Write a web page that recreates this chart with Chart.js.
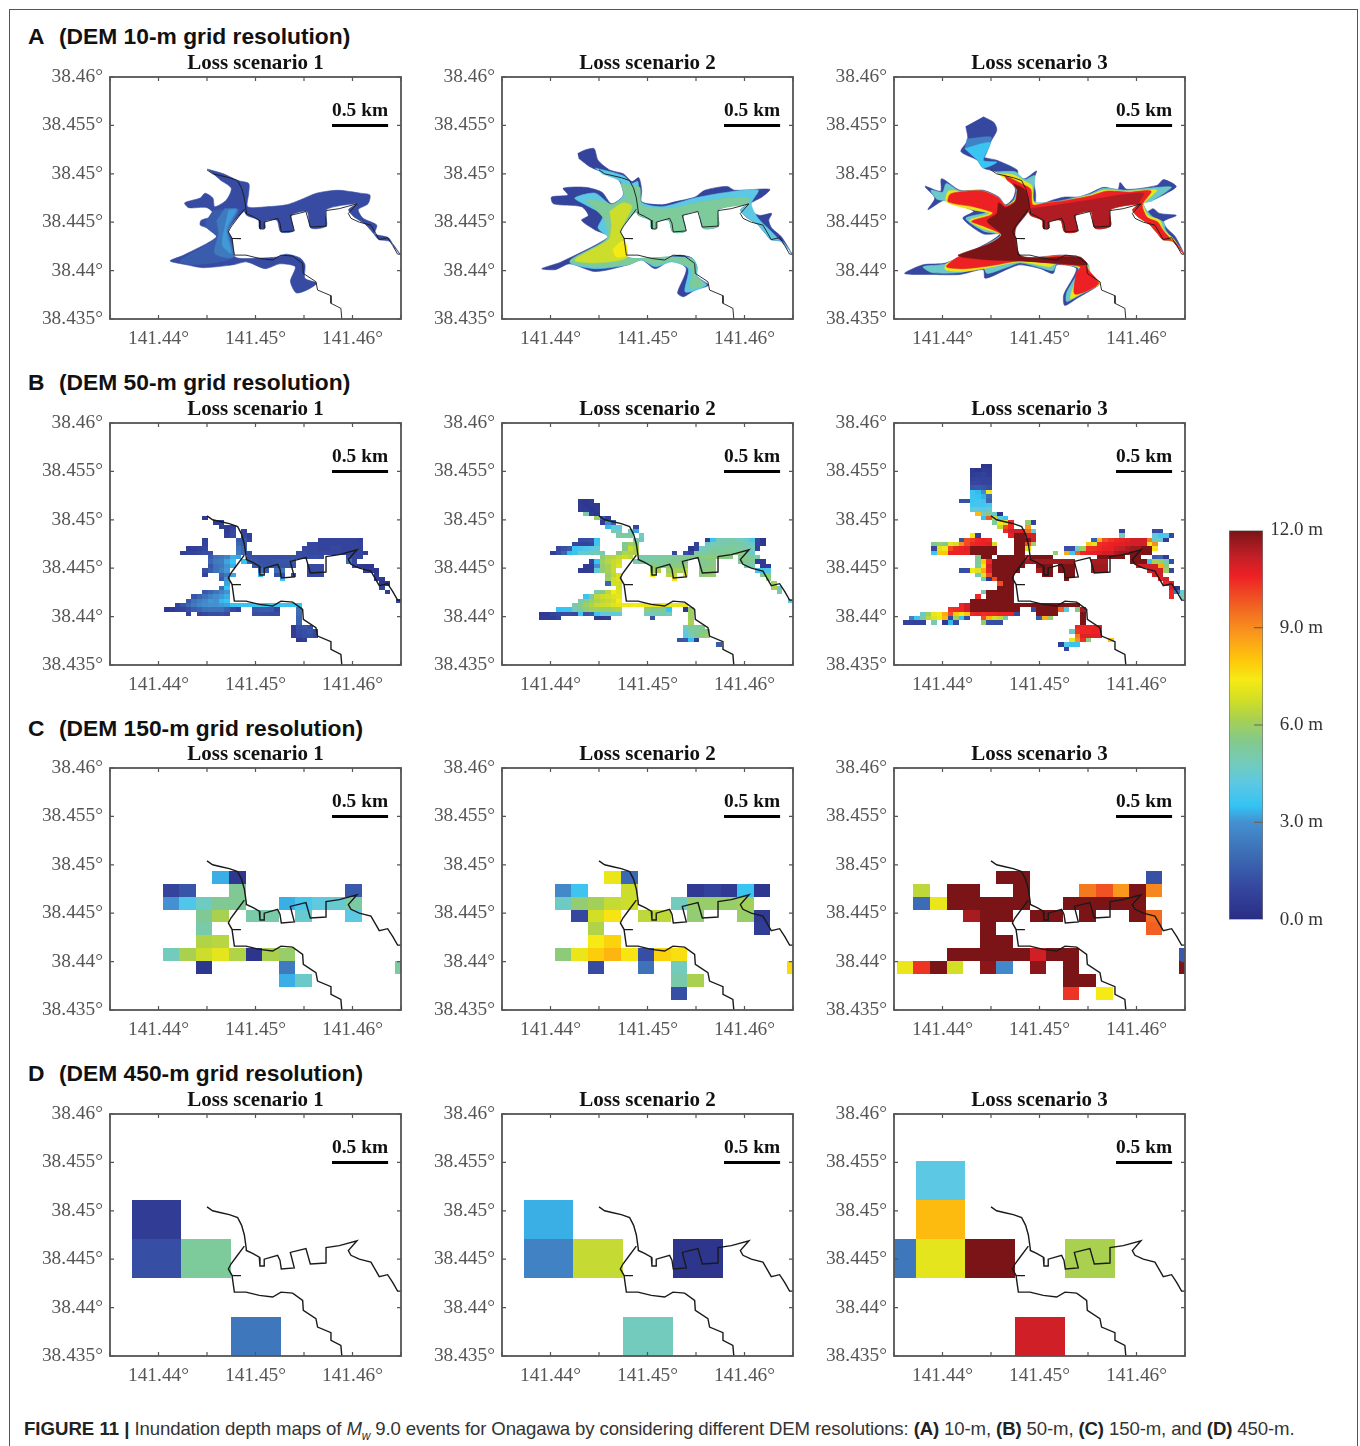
<!DOCTYPE html>
<html>
<head>
<meta charset="utf-8">
<title>Inundation depth maps</title>
<script src="https://cdn.jsdelivr.net/npm/chart.js@4"></script>
<style>
  html, body { margin: 0; padding: 0; background: #fff; }
  body { position: relative; width: 1360px; height: 1446px; overflow: hidden; }
  canvas { position: absolute; }
  #frame { position: absolute; left: 9px; top: 9px; width: 1347px; height: 1460px; border: 1px solid #555; }
  .head { position: absolute; font: bold 22.8px "Liberation Sans"; color: #111; white-space: nowrap; line-height: 28px; }
  #caption { position: absolute; left: 24px; top: 1417px; font: 18.6px "Liberation Sans"; color: #333; white-space: nowrap; line-height: 24px; letter-spacing: -.125px; }
  #caption b { color: #222; }
  #caption b.fig { letter-spacing: 0; }
</style>
</head>
<body>
<div id="frame"></div>
<div id="caption"><b class="fig">FIGURE 11 |</b> Inundation depth maps of <i>M<sub style="font-size:12px;line-height:0">w</sub></i> 9.0 events for Onagawa by considering different DEM resolutions: <b>(A)</b> 10-m, <b>(B)</b> 50-m, <b>(C)</b> 150-m, and <b>(D)</b> 450-m.</div>
<script>
const scenarioTitles = ['Loss scenario 1', 'Loss scenario 2', 'Loss scenario 3'];
const rowLetters = ['A', 'B', 'C', 'D'];
const rowTitles = ['(DEM 10-m grid resolution)', '(DEM 50-m grid resolution)', '(DEM 150-m grid resolution)', '(DEM 450-m grid resolution)'];
const labelledLons = [141.44, 141.45, 141.46];
const scaleBarLons = [141.45789, 141.46367];
const scaleBarLat = 38.455;
const colorbarTicks = [0, 3, 6, 9, 12];

// depth colour table
const depthStops = [0, 1, 2, 3, 3.5, 4.2, 4.8, 5.5, 6.2, 6.8, 7.4, 8, 8.7, 9.3, 10, 10.6, 11.2, 12];
const depthColors = ['#2a2d84', '#35479f', '#3c6cb4', '#4490d0', '#33c3f4', '#5cc8e3', '#72cbbc', '#82c98d', '#a9d14f', '#d3df24', '#f6ea14', '#fec70a', '#fb9e1a', '#f47a20', '#ef4b24', '#ed2024', '#c21f27', '#7a1416'];

// coast, lon / lat in degrees
const coastNorthLon = [141.4450, 141.44558, 141.44644, 141.4473, 141.44816, 141.44857, 141.44885, 141.44905, 141.44905, 141.4497, 141.45039, 141.45046, 141.4509, 141.4509, 141.45228, 141.45252, 141.45266, 141.4540, 141.45359, 141.4552, 141.45565, 141.45733, 141.45727, 141.45864, 141.46046, 141.45957, 141.45984, 141.4607, 141.4619, 141.46242, 141.46276, 141.46362, 141.46414, 141.46465, 141.465];
const coastNorthLat = [38.4504, 38.4500, 38.4498, 38.4496, 38.4493, 38.4485, 38.4475, 38.4461, 38.4459, 38.4456, 38.4452, 38.4443, 38.4443, 38.4450, 38.4454, 38.4449, 38.4440, 38.4441, 38.4457, 38.4461, 38.4445, 38.4446, 38.4462, 38.4464, 38.4469, 38.4459, 38.4454, 38.4450, 38.4447, 38.4438, 38.4432, 38.4434, 38.4426, 38.4417, 38.4417];
const coastSouthLon = [141.44885, 141.44799, 141.44747, 141.4472, 141.44758, 141.4485, 141.44758, 141.44782, 141.44902, 141.45039, 141.45177, 141.45263, 141.45383, 141.45486, 141.45493, 141.45623, 141.4564, 141.45778, 141.45778, 141.4588, 141.4589];
const coastSouthLat = [38.44635, 38.4452, 38.4445, 38.4440, 38.44332, 38.4433, 38.44332, 38.4416, 38.4416, 38.44126, 38.44109, 38.4416, 38.4415, 38.44074, 38.43971, 38.43885, 38.43799, 38.43741, 38.43662, 38.4361, 38.435];

// 10-m maps: depth bands as outlines, offsets from the lower left corner in 1e-4 degrees
const tailCoast = [[299,67],[289,80],[277,82],[272,88],[263,98],[251,106],[246,113]];
const dockCoast = [[254,119],[223,113],[223,96],[207,94],[203,111],[187,107],[189,91],[176,90],[172,102],[160,101],[160,94],[154,94],[153,102],[141,107],[138,111]];
const midCoast = [[122,92],[126,83],[129,64]];

const a1North = [[100,155],[117,150],[132,143],[143,140],[143,130],[142,116],[162,116],[182,118],[196,123],[213,130],[235,133],[258,130],[268,128],[266,119],[256,113],[261,104],[275,97],[273,88],[287,84],[294,73]];
const a1South = [[155,63],[172,64],[182,67],[196,63],[201,56],[201,42],[213,37],[203,30],[192,27],[186,39],[191,54],[175,57],[160,52],[141,59],[127,56],[96,53],[79,56],[62,60],[76,66],[110,85],[100,94],[93,97],[94,102],[108,107],[100,115],[81,115],[77,120],[93,125],[98,130],[106,125],[108,116],[120,123],[125,135],[113,144]];
const a1Wide = [[106,112],[132,113],[122,92],[127,64],[88,56],[72,60],[110,84],[100,94],[98,100]];
const a1Mid = [[118,114],[132,113],[122,92],[127,64],[108,68],[112,88],[110,102]];
const a1Core = [[122,112],[130,113],[120,92],[125,68],[116,76],[117,90]];

const a2North = [[78,171],[87,175],[95,176],[99,164],[111,154],[125,150],[134,142],[141,146],[144,133],[144,121],[165,118],[178,121],[199,126],[209,133],[232,137],[240,133],[276,134],[268,126],[256,119],[257,111],[266,107],[278,109],[275,102],[278,94],[288,85]];
const a2South = [[154,63],[172,64],[183,66],[196,63],[201,54],[201,44],[213,35],[199,30],[187,23],[181,27],[190,52],[175,61],[158,52],[144,61],[130,56],[96,49],[70,57],[55,51],[41,52],[61,59],[110,85],[96,92],[82,102],[89,107],[82,116],[53,119],[51,126],[68,128],[63,135],[86,136],[103,131],[113,119],[125,128],[120,144],[103,152],[91,157],[79,166]];
const a2CyanNorth = [[96,156],[125,148],[134,140],[140,142],[143,121],[165,116],[199,125],[233,131],[264,133],[257,119],[264,104],[276,92],[297,70]];
const a2CyanSouth = [[154,63],[172,64],[196,63],[201,54],[201,44],[211,35],[189,28],[192,52],[175,59],[158,54],[144,61],[130,56],[96,52],[70,59],[110,83],[99,94],[104,107],[86,118],[75,125],[96,130],[113,118],[125,128],[122,142],[103,150]];
const a2GreenNorth = [[122,140],[134,138],[142,136],[143,121],[147,116],[171,114],[206,121],[233,125],[254,125]];
const a2GreenSouth = [[154,63],[172,64],[196,62],[200,54],[200,44],[209,36],[194,32],[196,51],[175,60],[158,56],[144,61],[130,56],[96,54],[70,60],[108,83],[106,102],[96,114],[87,123],[106,121],[113,118],[127,126]];
const a2Yellow = [[111,111],[125,120],[134,116],[123,92],[129,64],[96,58],[75,61],[110,82],[113,95]];
const a2Bright = [[122,80],[127,80],[129,66],[118,64],[114,72]];

const a3North = [[92,209],[103,203],[106,195],[99,182],[92,168],[106,164],[127,154],[128,147],[135,145],[147,153],[144,144],[146,130],[147,118],[164,123],[176,126],[190,126],[202,130],[216,136],[231,134],[233,141],[240,134],[271,138],[278,144],[291,137],[281,130],[267,123],[257,120],[261,111],[267,114],[274,109],[291,107],[278,101],[281,94],[290,85]];
const a3South = [[175,66],[195,61],[200,56],[202,42],[213,37],[188,21],[176,14],[175,25],[188,52],[168,56],[164,47],[151,52],[130,56],[118,52],[94,42],[92,51],[68,46],[39,46],[11,47],[30,56],[54,58],[99,80],[109,88],[92,88],[71,104],[82,111],[77,114],[53,123],[35,113],[42,125],[32,137],[48,132],[49,145],[68,133],[92,133],[108,126],[115,118],[123,125],[125,135],[116,145],[106,152],[92,156],[86,164],[69,173],[76,185],[74,199]];
const a3Lobe = [[73,176],[99,182],[92,164],[106,162],[92,156],[86,164]];
const a3LobeMid = [[75,186],[100,188],[99,181],[92,165],[86,165],[73,176]];
const a3CyanNorth = [[106,152],[125,152],[135,144],[145,148],[144,122],[164,121],[202,129],[216,135],[240,133],[272,136],[286,136],[266,122],[257,119],[266,106],[278,100],[280,92],[297,69]];
const a3CyanSouth = [[175,65],[195,60],[201,55],[202,42],[213,37],[188,23],[178,18],[178,27],[190,52],[168,57],[164,50],[151,53],[130,58],[118,54],[96,47],[92,53],[68,48],[39,48],[30,54],[54,57],[99,79],[110,87],[92,91],[74,104],[95,110],[78,114],[53,122],[44,124],[38,133],[50,131],[54,140],[68,132],[92,132],[108,125],[115,117],[124,124],[126,135],[116,144]];
const a3YellowNorth = [[106,150],[123,149],[135,142],[142,138],[144,121],[149,119],[175,122],[202,128],[216,133],[237,132],[261,133],[271,133],[261,123],[257,118],[262,107],[274,102],[278,92],[288,83],[297,70]];
const a3YellowSouth = [[175,65],[195,60],[200,54],[202,42],[213,37],[194,27],[182,21],[187,39],[192,52],[168,58],[161,54],[130,59],[92,52],[70,49],[53,51],[54,57],[99,78],[111,87],[90,94],[78,102],[99,109],[80,113],[54,121],[56,132],[68,132],[92,132],[108,125],[115,117],[125,123],[127,135],[116,144]];
const a3RedNorth = [[113,149],[133,139],[141,134],[143,118],[157,120],[175,122],[202,127],[219,132],[243,131],[265,132],[256,118],[261,105],[272,100],[277,92],[285,83]];
const a3RedSouth = [[175,65],[195,59],[201,50],[211,37],[199,29],[186,26],[188,47],[192,54],[168,57],[130,60],[99,55],[72,52],[54,54],[66,64],[99,78],[111,87],[92,96],[80,101],[99,107],[102,110],[82,116],[56,121],[58,129],[75,132],[92,132],[108,125],[115,117],[125,122],[127,134],[116,144]];
const a3Dark = [[140,114],[157,116],[202,123],[257,130],[249,115],[254,119],[223,113],[223,96],[207,94],[203,111],[187,107],[189,91],[176,90],[172,102],[160,101],[160,94],[154,94],[153,102],[141,107]];
const a3Core = [[123,140],[135,133],[139,113],[125,92],[130,66],[157,63],[171,64],[192,64],[199,56],[161,58],[132,60],[99,61],[70,64],[66,66],[99,78],[111,87],[96,101],[106,109],[108,120],[115,115],[125,121],[127,133]];

const a1Bands = [[...a1North, ...tailCoast, ...dockCoast, ...midCoast, ...a1South], a1Wide, a1Mid, a1Core];
const a1Depths = [1.1, 1.6, 2.4, 3.1];
const a2Bands = [
  [...a2North, ...tailCoast, ...dockCoast, ...midCoast, ...a2South],
  [...a2CyanNorth, ...tailCoast, ...dockCoast, ...midCoast, ...a2CyanSouth],
  [...a2GreenNorth, ...dockCoast, ...midCoast, ...a2GreenSouth],
  a2Yellow, a2Bright
];
const a2Depths = [0.9, 4.2, 5.3, 6.7, 7.4];
const a3Bands = [
  [...a3North, ...tailCoast, ...dockCoast, ...midCoast, ...a3South],
  a3LobeMid, a3Lobe,
  [...a3CyanNorth, ...tailCoast, ...dockCoast, ...midCoast, ...a3CyanSouth],
  [...a3YellowNorth, ...tailCoast, ...dockCoast, ...midCoast, ...a3YellowSouth],
  [...a3RedNorth, ...tailCoast, ...dockCoast, ...midCoast, ...a3RedSouth],
  a3Dark, a3Core
];
const a3Depths = [1.0, 2.6, 3.6, 4.6, 7.2, 10.6, 11.4, 12];

// 50-m cells: [row, first column, depths...]
const b1Cells = [
  [0,7,.5],[1,9,.6,.7],[2,10,.7,.6,.8],[3,11,.5,1],[3,14,.9],[4,11,.7,1.1],[4,14,1,.7],
  [5,7,.8],[5,13,1.6,1.4,.8],[5,28,.9,.8,.8,.9,.9,.8,.8,.7],
  [6,7,.9],[6,13,1.9,1.6],[6,26,1,1,.9,.9,.9,.9,.9,.9,.8,.8],
  [7,4,.6,.7,.8,1],[7,13,2.2,1.8],[7,25,1,1,1,.9,.9,1,1,.9,.9,.9,.8],
  [8,3,.7,.9,.9,1,1.2,1.3],[8,13,2.4,1.9,1.2],[8,24,1.1,1.1,1,1,1,1,1,1,1,.9,.9,.9,.7],
  [9,8,1.6,2.2,2.3,2.6,3.3,3.2],[9,15,1.3,1.3,1.2,1.2,1.2,1.2,1.2,1.3,1.3],[9,24,1.2,1.1,1.1,1.2,1.1],[9,33,1.2,1,.9],
  [10,8,1.9,2.4,2.5,3.2,3.5],[10,14,3.5,1.6,1.4,1.3,1.3,1.3,1.4,1.4,1.4,1.4],[10,33,2,1],
  [11,8,1.4,2.2,2.4,3,3.3],[11,16,1.3,1.4,1.3,1.3,1.3,1.3,1.3,1.3],[11,26,1.1,1.1,1.1],[11,34,1.1,.5,.4,.4],
  [12,7,1.2,1.6,2.2,2.6,3.1],[12,17,2.1,1.5],[12,20,2,2.3],[12,26,1,1.1,1.1],[12,36,.6,.5,.4],
  [13,7,.8],[13,10,1.8,2.3,3.2],[13,17,3.4],[13,20,1.2,1.3],[13,23,1.2],[13,26,1,1,1],[13,38,.6],
  [14,10,1.5,3],[14,21,3.6],[14,38,.7,.5],[15,11,3.2],[15,39,.4,.4],[16,10,2,3.5],[16,39,.8],
  [17,7,1.5,1.8,2.2,2.6,3],[17,40,.7],[18,5,1.4,1.8,2.2,2.6,2.9,3.1,3.3],
  [19,4,1.5,2.2,2.5,2.8,3.1,3,3.4,3.6],[19,42,.8],
  [20,2,.9,1.4,1.9,2.4,2.7,2.9,3,3,3.1,3.2,3.5,3.6,3.6,3.6,3.6,3.6,3.6,3.6,3.6,3.6,3.6,3.6,3.5],
  [21,0,.4,.5,.7,.9,1.2,1.6,1.8,2.1,2.2,2.2,2.2,1.7,1,.7],[21,16,1.4,1.5,1.6,1.5,.9],[21,24,2.1],
  [22,4,.8],[22,6,.9,1,1.2,1.2,1.3,1.1],[22,16,1.2,1.3,1.2,1.1,1.1],[22,24,2],
  [23,24,1.8],[24,24,1.7],[25,23,.6,1.2,1.4,1.2],[26,23,.6,1.1,1.2,1.4,1],[27,23,.6,1,1.2,1.2,.9],[28,24,.5,.7]
];
const b2Cells = [
  [-4,4,.5,.4,.6],[-3,4,.5,.4,.5,.5],[-2,4,.5,.5,.4,.5],[-1,5,5,.5,.4],[0,7,6,1.6,.6],[1,8,.6,2.8,1.5],
  [2,9,3.4,4.4,4.2],[2,14,1],[3,10,5,4.8],[3,13,4.8,3.2],[4,11,5.2,5.2,5.2],[4,15,4.8],
  [5,4,1.1,1.2,1.3,3.6],[5,14,5,4.6],[5,27,.7,3.6,5,5,5,5,4.8,4.5,3.9,1,.4],
  [6,3,1,.8,.8,1,3.7],[6,12,5.5,6,5.6],[6,25,.8],[6,27,4.6,4.8,5,5,5.2,5.2,5,5,4.6,.9,.5],
  [7,0,1,1.3,1.5,3.6,3.8,4,4.2,4.5],[7,12,5.5,6.6,6.2],[7,24,.4,.9,4.8,5,5.2,5.2,5.2,5.3,5.3,5.2,5,4.8,.8],
  [8,-1,.7,1.2,1.8,3.4,3.6,4.5,4.6,4.7,4.9,5],[8,11,5.6,6.3,6.3,6.2],[8,21,1],[8,23,1.2,.9,5.2,5.3,5.3,5.4,5.4,5.5,5.5,5.5,5.8,5.2,4.6],
  [9,8,5.8,6.3,6.4,6.6,6.7,6.5],[9,15,5,5.1,5.1,5.2,5.3,5.3,5.4,5.4,5.4,5.5,5.6,5.6,5.7,5.7,5.7,5.6,5.6],[9,33,5.3,5.5,5.3,5],
  [10,6,.9,3.5,6,6.4,6.6,6.8],[10,14,5.1,5.2,5.2,5.3,5.3,5.3,5.4,5.5,5.5,5.4],[10,26,5.5,5.5,5.6],[10,33,5.4,5.5,5.3,.5,.5],
  [11,5,.6,.6,3,5.8,6.2,6.6,7],[11,17,5.7,5.5,5.5,5.5,5.6,5.6,5.8],[11,26,5.4,5.5,5.6],[11,34,5,5],[11,37,.5,.6],
  [12,4,.6,.5,.6,4.3,5.8,6.2,6.6],[12,17,6,6.2],[12,20,6,6.1,6.1,6.4],[12,26,5.6,5.7,5.7],[12,36,3.7,3.8,4],
  [13,9,5.9,6.5,6.9],[13,17,7.3],[13,20,6.4,6.5],[13,23,7],[13,26,5.7,5.8,5.8],[13,37,5.5,5.7],
  [14,9,6.1,6.8,7],[14,21,7.6],[14,38,5.8],[15,9,1.8,6.8,6.8],[15,39,6],[16,11,6.8],[16,39,6.2,4.6],
  [17,7,5,5.6,6.5,7.4,7],[17,40,5.2],[18,5,3.6,5.2,6.5,6.7,6.8,7,7.1],
  [19,4,5,5.7,6,6.3,6.5,6.6,6.8,7.4],[19,42,4.3],
  [20,3,5,5.6,6,6.3,6.6,6.7,6.8,7,7.1,7.3,7.3,7.4,7.3,7.2,7.2,7.2,7.2,7.2,7.2,7.2,7.2],
  [21,0,3.5,3.6,3.6,4.8,5.3,5.8,6,6,6,6,6.2,6.3],[21,16,5.8,5.6,5.6,5.6,3.5],[21,23,.4,6],
  [22,-3,.5,.5,.8,1,1.1,1.1,1,3.7,1.3,1.5,3.7,4.3,4.4,4.3,4.4],[22,16,4.8,4.8,4.9,4.9,4.8],[22,24,6],
  [23,-3,.6,.6,.6,.8],[23,7,.6,.5,.6],[23,17,1.3],[23,24,6],[24,24,6.2],
  [25,23,4.8,5.2,5.3,5.5],[26,23,4.3,5,5.4,5.5,5.6],[27,23,4.2,4.8,5.4,5.7,5.9],[28,22,1.4,1.5,3.5,.7],[29,29,1.6]
];
const b3Cells = [
  [-12,6,.3,.3],[-11,4,.5,.4,.6,.5],[-10,4,.6,.7,.8,.6],[-9,4,.8,.9,.8,.8],[-8,4,1,1,.9,.9],[-7,4,1.4,1.5,1.4,1.2],
  [-6,4,3.6,3.4,2.8,7.4],[-5,4,3.7,3.5,3.3,2],[-4,2,1.3,1.3,3.7,3.8,3.6,1.8],[-3,4,3.8,3.8,3.8,3.9],[-2,4,4.4,4.3,4.2,4.5],
  [-1,5,8.2,4.8,5.4,4.6,.3],[0,6,3.5,9.8,6.5,4.2,3.6],[1,8,5.3,7.3,7,10.5],[1,14,5.8,.8],[2,9,6.5,10,10.5],[2,14,8.8],
  [3,10,10.5,11,11,11,9.5,4.5],[3,31,.8],[3,37,1.1,1.1],
  [4,4,7.3,.7],[4,11,10.6,12,12,11,11],[4,31,4.8],[4,37,4.4,3.8,4,1],
  [5,2,1.3,10,10.2,10.5,10.6,10.5],[5,12,12,12,12,11],[5,26,1.6,8.3,10,10.3,10.5,10.6,10.7,11,11,11,9.3,4.6,4.5,.6],
  [6,-3,5.5,5.9,5.4,7.1,6.8,9,10,10.5,10.6,10.6,10.8,6.8],[6,12,12,12,10,6],[6,25,8,7,10.4,10.5,10.6,10.7,10.8,10.9,11,11,11,7.5,9],
  [7,-3,1,7,7.3,10,10.5,10.6,10.8,12,12,12,12,12],[7,12,12,12,7],[7,21,1.2,1.2,4.6,6,10.3,10.4,10.5,10.6,10.7,11,11.2,11.4,11.6,11.6,12,12,7.5],
  [8,-3,3.7,8,8,10.6,10.6,10.6,10.6,12,12,12,12,12],[8,12,12,12],[8,19,5.8],[8,21,8.5,3.8,9.7,10.5,10.6,10.7,10.8,11,11,11.4,11.6,11.6,12,12,12,12],
  [9,5,5.5,12,12],[9,9,12,12,12,12,12,11,12,12,12,12],[9,27,12,12,12,12,12],[9,33,12,12],[9,37,1.6,1.8],[9,39,.6],
  [10,5,5.4,8,10.5,12,12,12,12,12,12],[10,14,11.5,11.6,11.6,11.6,11.6,11.6,11.6,11.6,11.6],[10,26,11.5,11.5,11.5],[10,33,12,12,12,3.6,6.2,6,4.8,1.2],
  [11,5,5.3,7.5,11,12,12,12,12,12,12],[11,16,12,12,12],[11,20,12,12,12],[11,26,11.6,11.6,11.6],[11,34,11,11,11,11,8.5,5.7],
  [12,2,1.2,1.2,7.3,7,8.5,10.8,12,12,12,12,12],[12,16,11.5,12,12],[12,20,12,12,12],[12,26,11.6,11.6,11.6],[12,36,11,11,11,6,1],
  [13,5,5,7,10,12,12,12,12],[13,17,12,12],[13,21,12,12],[13,37,11,11],
  [14,6,4.8,.4,10,12,12,12],[14,21,12],[14,38,10.6,11],[15,9,10,12,12],[15,39,10.5,11],[16,9,12,12,12],[16,40,11,.3],
  [17,6,5.1,12,12,12,12,12],[17,40,10.5,2.2,4.5],[18,5,10.5],[18,7,12,12,12,12,12],[18,40,10.5],[18,42,4.8],
  [19,4,12,12,12,12,12,12,12,12],[19,43,9.8],
  [20,2,10.5,11,12,12,12,12,12,12,12,12,12,12,12,12,12,12,12,12,12,12,12,12],
  [21,0,10.3,10.4,10.5,11,12,12,12,12,12,12,12,12,12],[21,15,1.2,12,12,12,12,9.7,4.2],[21,23,5.6,11.5],
  [22,-5,4.6,6,7.2,7.4,8.5,10,8,7.5,8,10.5,10.6,10.4,10.5,10.5,10.6,10.6,10.6,1],[22,16,12,12,12,12],[22,24,12],
  [23,-7,2.6,3.7,5,6.5,7,7.3,8.3,1,6,3.6,1.2],[23,6,10,8.3,6.8,6.5,5],[23,16,1.6,8.4,5.8],[23,24,12],
  [24,-8,.8,.8,.8,.8],[24,-3,5],[24,-1,.5,3.4,1.1],[24,6,5.8,1.2,1.2,1.2],[24,24,12],
  [25,23,10.5,10.5,10.6,10.6,10.6],[26,22,4.6,10.3,10.5,10.5,10.6,10.6],[27,23,9.3,10.8,10.8,10.8,10.8],
  [28,22,7.2,8.9,10.4,5.7],[28,29,8],[29,20,.6,4,3.6,3.6],[30,21,1]
];

// 150-m cells
const c1Cells = [
  [0,6,3.3,.4],[1,3,.9,1.4],[1,7,5.4],[1,14,1.5],
  [2,3,3,4,4.7,5.4,5.4],[2,10,3.3,3.9,4.3,4.5,5.2],
  [3,5,5.4,6.2],[3,8,5.1,5.1],[3,11,4.5],[3,14,4.2],
  [4,5,5.1],[5,5,6.3,6.4],[6,3,4.8,6.2,6.7,7.1,6.3,.3,6.2,5.9],
  [7,5,.4],[7,10,2.4],[7,17,5.2],[8,10,3.3,4.6]
];
const c2Cells = [
  [0,6,7.2,1.9],[1,3,2.8,3.7],[1,7,6.7],[1,11,.5,.8,.5,3.6,.4],
  [2,3,4.7,5.8,6.1,6.6,6.7],[2,10,4.8,5.9,5.9,5.9,6.1],
  [3,4,1,6.8,7.5],[3,8,6.5,6.5],[3,11,5.8],[3,14,5.9,.5],
  [4,5,6.3],[4,15,.6],[5,5,7.4,7.8],[6,3,5.7,7.2,7.9,8.3,7.5,1.2,7.8,7.6],
  [7,5,1.1],[7,8,2.2],[7,10,4.8],[7,17,7.7],[8,10,5.1,6.2],[9,10,1.2]
];
const c3Cells = [
  [0,6,12,12],[0,15,1.3],[1,1,6.5],[1,3,12,12],[1,7,12],[1,11,9.3,9.9,8.8,12,9.1],
  [2,1,2,7.2,12,12,12,12,12],[2,10,12,12,12,12,12],
  [3,4,11.5,12,12],[3,8,12,12],[3,11,12],[3,14,12,9.5],
  [4,5,12],[4,15,9.7],[5,5,12,12],[6,3,12,12,12,12,12,11,12,12],[6,17,1.5],
  [7,0,7.2,10.3,12,6.8],[7,5,11.8,2.8],[7,8,11.8],[7,10,12],[7,17,12],[8,10,12,12],[9,10,10.3],[9,12,7.4]
];

// 450-m cells
const d1Cells = [[1,0,.6],[2,0,1.2,5.3],[4,2,2.3]];
const d2Cells = [[1,0,3.3],[2,0,2.6,6.6],[2,3,.3],[4,2,4.8]];
const d3Cells = [[0,0,4.2],[1,0,8.2],[2,-1,2.3,7.1,12],[2,3,6.2],[4,2,11]];

const grid50 = { lon0: 141.44053, lat0: 38.4504, dLon: .00057, dLat: .00045 };
const grid150 = { lon0: 141.4353, lat0: 38.4494, dLon: .00171, dLat: .00134 };
const grid450 = { lon0: 141.43723, lat0: 38.45512, dLon: .00513, dLat: .00402 };

const panelLefts = [110, 502, 894];
const panelTops = [77, 423, 768, 1114];
const headingTops = [22, 368, 714, 1059];

function depthColor(d) {
  let i = 0;
  while (i < depthStops.length - 2 && d > depthStops[i + 1]) i++;
  const t = Math.min(1, (d - depthStops[i]) / (depthStops[i + 1] - depthStops[i]));
  const a = depthColors[i], b = depthColors[i + 1];
  const ch = (s, p) => parseInt(s.substr(p, 2), 16);
  const mix = p => Math.round(ch(a, p) + (ch(b, p) - ch(a, p)) * t);
  return 'rgb(' + mix(1) + ',' + mix(3) + ',' + mix(5) + ')';
}

function offsetPoints(pairs) {
  return pairs.map(p => ({ x: 141.435 + p[0] * 1e-4, y: 38.435 + p[1] * 1e-4 }));
}

function zipPoints(lons, lats) {
  return lons.map((lon, i) => ({ x: lon, y: lats[i] }));
}

function cellPoints(cells, grid) {
  const out = [];
  cells.forEach(run => {
    for (let i = 2; i < run.length; i++) {
      const c = run[1] + i - 2;
      out.push({
        x: grid.lon0 + (c + .5) * grid.dLon,
        y: grid.lat0 - (run[0] + .5) * grid.dLat,
        depth: run[i]
      });
    }
  });
  return out;
}

// cells are rectangles, one per data point, placed with the chart's scales
const cellPlugin = {
  id: 'cells',
  beforeDatasetsDraw(chart) {
    const { ctx, chartArea, scales } = chart;
    ctx.save();
    ctx.beginPath();
    ctx.rect(chartArea.left, chartArea.top, chartArea.width, chartArea.height);
    ctx.clip();
    chart.data.datasets.forEach(ds => {
      if (!ds.grid) return;
      ds.data.forEach(p => {
        const x0 = Math.round(scales.x.getPixelForValue(p.x - ds.grid.dLon / 2));
        const x1 = Math.round(scales.x.getPixelForValue(p.x + ds.grid.dLon / 2));
        const y0 = Math.round(scales.y.getPixelForValue(p.y + ds.grid.dLat / 2));
        const y1 = Math.round(scales.y.getPixelForValue(p.y - ds.grid.dLat / 2));
        ctx.fillStyle = depthColor(p.depth);
        ctx.fillRect(x0, y0, x1 - x0, y1 - y0);
      });
    });
    ctx.restore();
  }
};

// box round the map with short inward ticks, and the scale bar text
const framePlugin = {
  id: 'mapFrame',
  afterDraw(chart) {
    const { ctx, chartArea: a, scales } = chart;
    ctx.save();
    ctx.strokeStyle = '#555';
    ctx.lineWidth = 1.8;
    ctx.strokeRect(a.left, a.top, a.width, a.height);
    ctx.lineWidth = 1.2;
    ctx.beginPath();
    scales.x.ticks.forEach(t => {
      const px = scales.x.getPixelForValue(t.value);
      ctx.moveTo(px, a.bottom); ctx.lineTo(px, a.bottom - 4);
      ctx.moveTo(px, a.top); ctx.lineTo(px, a.top + 4);
    });
    scales.y.ticks.forEach(t => {
      const py = scales.y.getPixelForValue(t.value);
      ctx.moveTo(a.left, py); ctx.lineTo(a.left + 4, py);
      ctx.moveTo(a.right, py); ctx.lineTo(a.right - 4, py);
    });
    ctx.stroke();
    ctx.fillStyle = '#111';
    ctx.font = 'bold 19.4px "Liberation Serif"';
    ctx.textAlign = 'center';
    ctx.textBaseline = 'middle';
    ctx.fillText('0.5 km',
      scales.x.getPixelForValue((scaleBarLons[0] + scaleBarLons[1]) / 2),
      scales.y.getPixelForValue(scaleBarLat) - 14.5);
    ctx.restore();
  }
};

function addCanvas(left, top, width, height) {
  const c = document.createElement('canvas');
  c.width = width; c.height = height;
  c.style.left = left + 'px'; c.style.top = top + 'px';
  c.style.width = width + 'px'; c.style.height = height + 'px';
  document.body.appendChild(c);
  return c;
}

function drawMap(left, top, title, bands, depths, cells, grid) {
  // the 10-m maps carry a thinner coast line
  const coastWidth = bands ? .9 : 1.4;
  const lineSets = [
    { data: zipPoints(coastNorthLon, coastNorthLat), showLine: true, borderColor: '#1a1a1a', borderWidth: coastWidth, pointRadius: 0, order: 0 },
    { data: zipPoints(coastSouthLon, coastSouthLat), showLine: true, borderColor: '#1a1a1a', borderWidth: coastWidth, pointRadius: 0, order: 0 },
    { data: zipPoints(scaleBarLons, [scaleBarLat, scaleBarLat]), showLine: true, borderColor: '#000', borderWidth: 3, pointRadius: 0, order: 0, clip: false }
  ];
  const bandSets = (bands || []).map((b, i) => ({
    data: offsetPoints(b), showLine: true, pointRadius: 0, fill: 'shape', tension: .25,
    borderColor: depthColor(depths[i]), borderWidth: .6,
    backgroundColor: depthColor(depths[i]), order: 100 - i
  }));
  const cellSets = cells ? [{ data: cellPoints(cells, grid), grid: grid, pointRadius: 0, order: 200 }] : [];
  new Chart(addCanvas(left - 80, top - 30, 383, 312), {
    type: 'scatter',
    data: { datasets: [...lineSets, ...bandSets, ...cellSets] },
    plugins: [cellPlugin, framePlugin],
    options: {
      responsive: false,
      animation: false,
      layout: { padding: { left: 0, right: 12, top: 0, bottom: 0 } },
      plugins: {
        legend: { display: false },
        tooltip: { enabled: false },
        title: {
          display: true, text: title, color: '#111', fullSize: false,
          font: { family: 'Liberation Serif', size: 21, weight: 'bold', lineHeight: 1.2 },
          padding: { top: 3.5, bottom: 1.3 }
        }
      },
      scales: {
        x: {
          type: 'linear', min: 141.435, max: 141.465,
          grid: { display: false, drawTicks: false },
          border: { display: false },
          afterFit: s => { s.height = 40; },
          ticks: {
            stepSize: .005, autoSkip: false, maxRotation: 0, padding: 8, color: '#555',
            font: { family: 'Liberation Serif', size: 19.4 },
            callback: v => labelledLons.some(l => Math.abs(l - v) < 1e-6) ? v.toFixed(2) + '°' : ''
          }
        },
        y: {
          type: 'linear', min: 38.435, max: 38.46,
          grid: { display: false, drawTicks: false },
          border: { display: false },
          afterFit: s => { s.width = 80; },
          ticks: {
            stepSize: .005, autoSkip: false, padding: 7, color: '#555',
            font: { family: 'Liberation Serif', size: 19.4 },
            callback: v => Number(v.toFixed(3)) + '°'
          }
        }
      }
    }
  });
}

rowLetters.forEach((letter, i) => {
  [[letter, 28], [rowTitles[i], 59]].forEach(([text, x]) => {
    const d = document.createElement('div');
    d.className = 'head';
    d.textContent = text;
    d.style.left = x + 'px';
    d.style.top = headingTops[i] + 'px';
    document.body.appendChild(d);
  });
});

const bandRows = [[a1Bands, a1Depths], [a2Bands, a2Depths], [a3Bands, a3Depths]];
const cellRows = [
  [[b1Cells, b2Cells, b3Cells], grid50],
  [[c1Cells, c2Cells, c3Cells], grid150],
  [[d1Cells, d2Cells, d3Cells], grid450]
];
panelLefts.forEach((left, j) => {
  drawMap(left, panelTops[0], scenarioTitles[j], bandRows[j][0], bandRows[j][1]);
  cellRows.forEach((row, i) => {
    drawMap(left, panelTops[i + 1], scenarioTitles[j], null, null, row[0][j], row[1]);
  });
});

// colour bar
new Chart(addCanvas(1225, 516, 98, 418), {
  type: 'bar',
  data: {
    labels: [''],
    datasets: [{
      data: [[colorbarTicks[0], colorbarTicks[4]]],
      barPercentage: 1, categoryPercentage: 1,
      borderColor: '#777', borderWidth: 1, borderSkipped: false,
      backgroundColor(ctx) {
        const a = ctx.chart.chartArea;
        if (!a) return '#888';
        const g = ctx.chart.ctx.createLinearGradient(0, a.bottom, 0, a.top);
        depthStops.forEach((d, i) => g.addColorStop(d / 12, depthColors[i]));
        return g;
      }
    }]
  },
  plugins: [{
    id: 'barTicks',
    afterDraw(chart) {
      const { ctx, chartArea: a, scales } = chart;
      ctx.save();
      ctx.strokeStyle = '#666';
      ctx.lineWidth = 1.2;
      ctx.beginPath();
      colorbarTicks.slice(1, 4).forEach(v => {
        const py = scales.y.getPixelForValue(v);
        ctx.moveTo(a.right, py); ctx.lineTo(a.right - 9, py);
      });
      ctx.stroke();
      ctx.restore();
    }
  }],
  options: {
    responsive: false,
    animation: false,
    layout: { padding: { left: 4, right: 0, top: 6, bottom: 6 } },
    plugins: { legend: { display: false }, tooltip: { enabled: false } },
    scales: {
      x: { display: false },
      y: {
        position: 'right', min: 0, max: 12,
        grid: { display: false, drawTicks: false },
        border: { display: false },
        afterFit: s => { s.width = 60; },
        afterBuildTicks: s => { s.ticks = colorbarTicks.map(v => ({ value: v })); },
        ticks: {
          crossAlign: 'far', color: '#333',
          font: { family: 'Liberation Serif', size: 19 },
          callback: v => v.toFixed(1) + ' m'
        }
      }
    }
  }
});
</script>
</body>
</html>
